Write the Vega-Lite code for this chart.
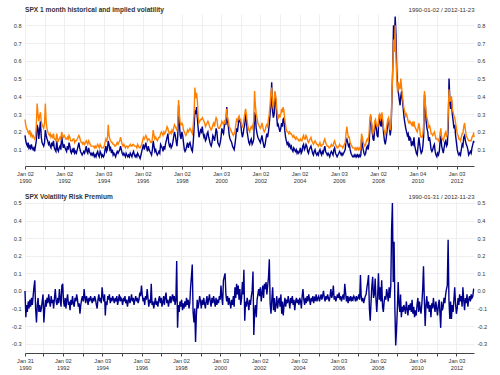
{
"$schema": "https://vega.github.io/schema/vega-lite/v6.json",
"padding": {"left": 11, "right": 4, "top": 6, "bottom": 2},
"config": {
  "font": "Liberation Sans",
  "view": {"stroke": null},
  "locale": {"number": {"decimal": ".", "thousands": ",", "grouping": [3], "currency": ["$", ""], "minus": "-"}},
  "axis": {"labelFont": "Liberation Sans", "labelFontSize": 5.6, "labelColor": "#333333", "domainColor": "#444444", "tickColor": "#444444", "gridColor": "#ebebeb", "gridWidth": 0.8, "titleFont": "Liberation Sans", "titleFontSize": 6, "titleFontWeight": "normal", "titleColor": "#333333"},
  "title": {"anchor": "start", "fontSize": 6.6, "fontWeight": "bold", "color": "#333333", "font": "Liberation Sans", "offset": -8, "frame": "group"},
  "concat": {"spacing": 9}
},
"datasets": {
"vol": [
{"d":"1990-01-02","h":0.18,"i":0.27},{"d":"1990-01-16","h":0.15,"i":0.24},{"d":"1990-02-01","h":0.13,"i":0.22},{"d":"1990-02-16","h":0.12,"i":0.21},{"d":"1990-03-01","h":0.14,"i":0.20},{"d":"1990-03-16","h":0.11,"i":0.19},{"d":"1990-04-01","h":0.12,"i":0.21},{"d":"1990-04-16","h":0.10,"i":0.18},{"d":"1990-05-01","h":0.13,"i":0.19},{"d":"1990-05-16","h":0.11,"i":0.17},{"d":"1990-06-01","h":0.10,"i":0.18},{"d":"1990-06-16","h":0.11,"i":0.17},{"d":"1990-07-01","h":0.09,"i":0.16},{"d":"1990-07-16","h":0.12,"i":0.17},{"d":"1990-08-01","h":0.15,"i":0.24},{"d":"1990-08-16","h":0.24,"i":0.36},{"d":"1990-09-01","h":0.22,"i":0.30},{"d":"1990-09-16","h":0.16,"i":0.26},{"d":"1990-10-01","h":0.21,"i":0.29},{"d":"1990-10-16","h":0.26,"i":0.31},{"d":"1990-11-01","h":0.17,"i":0.26},{"d":"1990-11-16","h":0.14,"i":0.24},{"d":"1990-12-01","h":0.13,"i":0.23},{"d":"1990-12-16","h":0.12,"i":0.22},
{"d":"1991-01-01","h":0.14,"i":0.25},{"d":"1991-01-16","h":0.21,"i":0.36},{"d":"1991-02-01","h":0.18,"i":0.25},{"d":"1991-02-16","h":0.16,"i":0.22},{"d":"1991-03-01","h":0.15,"i":0.20},{"d":"1991-03-16","h":0.13,"i":0.19},{"d":"1991-04-01","h":0.14,"i":0.18},{"d":"1991-04-16","h":0.12,"i":0.19},{"d":"1991-05-01","h":0.11,"i":0.17},{"d":"1991-05-16","h":0.14,"i":0.18},{"d":"1991-06-01","h":0.12,"i":0.17},{"d":"1991-06-16","h":0.15,"i":0.19},{"d":"1991-07-01","h":0.11,"i":0.16},{"d":"1991-07-16","h":0.10,"i":0.16},{"d":"1991-08-01","h":0.09,"i":0.15},{"d":"1991-08-16","h":0.15,"i":0.19},{"d":"1991-09-01","h":0.10,"i":0.16},{"d":"1991-09-16","h":0.09,"i":0.15},{"d":"1991-10-01","h":0.11,"i":0.16},{"d":"1991-10-16","h":0.12,"i":0.17},{"d":"1991-11-01","h":0.10,"i":0.16},{"d":"1991-11-16","h":0.18,"i":0.20},{"d":"1991-12-01","h":0.14,"i":0.18},{"d":"1991-12-16","h":0.11,"i":0.17},
{"d":"1992-01-01","h":0.13,"i":0.18},{"d":"1992-01-16","h":0.11,"i":0.17},{"d":"1992-02-01","h":0.10,"i":0.16},{"d":"1992-02-16","h":0.09,"i":0.16},{"d":"1992-03-01","h":0.12,"i":0.17},{"d":"1992-03-16","h":0.10,"i":0.16},{"d":"1992-04-01","h":0.14,"i":0.18},{"d":"1992-04-16","h":0.12,"i":0.17},{"d":"1992-05-01","h":0.09,"i":0.15},{"d":"1992-05-16","h":0.08,"i":0.15},{"d":"1992-06-01","h":0.10,"i":0.15},{"d":"1992-06-16","h":0.09,"i":0.16},{"d":"1992-07-01","h":0.11,"i":0.16},{"d":"1992-07-16","h":0.08,"i":0.14},{"d":"1992-08-01","h":0.09,"i":0.15},{"d":"1992-08-16","h":0.08,"i":0.15},{"d":"1992-09-01","h":0.10,"i":0.16},{"d":"1992-09-16","h":0.12,"i":0.17},{"d":"1992-10-01","h":0.14,"i":0.18},{"d":"1992-10-16","h":0.11,"i":0.17},{"d":"1992-11-01","h":0.09,"i":0.15},{"d":"1992-11-16","h":0.08,"i":0.14},{"d":"1992-12-01","h":0.07,"i":0.14},{"d":"1992-12-16","h":0.08,"i":0.13},
{"d":"1993-01-01","h":0.09,"i":0.14},{"d":"1993-01-16","h":0.08,"i":0.13},{"d":"1993-02-01","h":0.10,"i":0.14},{"d":"1993-02-16","h":0.12,"i":0.15},{"d":"1993-03-01","h":0.09,"i":0.14},{"d":"1993-03-16","h":0.08,"i":0.13},{"d":"1993-04-01","h":0.11,"i":0.15},{"d":"1993-04-16","h":0.09,"i":0.14},{"d":"1993-05-01","h":0.08,"i":0.13},{"d":"1993-05-16","h":0.07,"i":0.12},{"d":"1993-06-01","h":0.08,"i":0.12},{"d":"1993-06-16","h":0.07,"i":0.12},{"d":"1993-07-01","h":0.08,"i":0.12},{"d":"1993-07-16","h":0.06,"i":0.11},{"d":"1993-08-01","h":0.07,"i":0.12},{"d":"1993-08-16","h":0.06,"i":0.11},{"d":"1993-09-01","h":0.08,"i":0.12},{"d":"1993-09-16","h":0.09,"i":0.13},{"d":"1993-10-01","h":0.07,"i":0.12},{"d":"1993-10-16","h":0.06,"i":0.11},{"d":"1993-11-01","h":0.09,"i":0.13},{"d":"1993-11-16","h":0.08,"i":0.12},{"d":"1993-12-01","h":0.06,"i":0.11},{"d":"1993-12-16","h":0.07,"i":0.11},
{"d":"1994-01-01","h":0.06,"i":0.11},{"d":"1994-01-16","h":0.07,"i":0.12},{"d":"1994-02-01","h":0.10,"i":0.14},{"d":"1994-02-16","h":0.12,"i":0.16},{"d":"1994-03-01","h":0.09,"i":0.15},{"d":"1994-03-16","h":0.10,"i":0.16},{"d":"1994-04-01","h":0.15,"i":0.24},{"d":"1994-04-16","h":0.13,"i":0.18},{"d":"1994-05-01","h":0.10,"i":0.16},{"d":"1994-05-16","h":0.11,"i":0.15},{"d":"1994-06-01","h":0.08,"i":0.14},{"d":"1994-06-16","h":0.10,"i":0.14},{"d":"1994-07-01","h":0.07,"i":0.13},{"d":"1994-07-16","h":0.08,"i":0.13},{"d":"1994-08-01","h":0.07,"i":0.12},{"d":"1994-08-16","h":0.06,"i":0.12},{"d":"1994-09-01","h":0.08,"i":0.13},{"d":"1994-09-16","h":0.09,"i":0.14},{"d":"1994-10-01","h":0.08,"i":0.13},{"d":"1994-10-16","h":0.09,"i":0.14},{"d":"1994-11-01","h":0.10,"i":0.15},{"d":"1994-11-16","h":0.12,"i":0.17},{"d":"1994-12-01","h":0.10,"i":0.15},{"d":"1994-12-16","h":0.08,"i":0.13},
{"d":"1995-01-01","h":0.07,"i":0.12},{"d":"1995-01-16","h":0.08,"i":0.13},{"d":"1995-02-01","h":0.07,"i":0.12},{"d":"1995-02-16","h":0.06,"i":0.11},{"d":"1995-03-01","h":0.08,"i":0.12},{"d":"1995-03-16","h":0.07,"i":0.12},{"d":"1995-04-01","h":0.06,"i":0.11},{"d":"1995-04-16","h":0.07,"i":0.12},{"d":"1995-05-01","h":0.06,"i":0.12},{"d":"1995-05-16","h":0.08,"i":0.13},{"d":"1995-06-01","h":0.07,"i":0.12},{"d":"1995-06-16","h":0.06,"i":0.12},{"d":"1995-07-01","h":0.08,"i":0.13},{"d":"1995-07-16","h":0.09,"i":0.13},{"d":"1995-08-01","h":0.07,"i":0.12},{"d":"1995-08-16","h":0.06,"i":0.12},{"d":"1995-09-01","h":0.07,"i":0.12},{"d":"1995-09-16","h":0.06,"i":0.11},{"d":"1995-10-01","h":0.08,"i":0.13},{"d":"1995-10-16","h":0.07,"i":0.12},{"d":"1995-11-01","h":0.06,"i":0.11},{"d":"1995-11-16","h":0.05,"i":0.11},{"d":"1995-12-01","h":0.07,"i":0.12},{"d":"1995-12-16","h":0.09,"i":0.13},
{"d":"1996-01-01","h":0.11,"i":0.15},{"d":"1996-01-16","h":0.13,"i":0.17},{"d":"1996-02-01","h":0.10,"i":0.16},{"d":"1996-02-16","h":0.12,"i":0.17},{"d":"1996-03-01","h":0.14,"i":0.18},{"d":"1996-03-16","h":0.11,"i":0.17},{"d":"1996-04-01","h":0.09,"i":0.15},{"d":"1996-04-16","h":0.12,"i":0.16},{"d":"1996-05-01","h":0.10,"i":0.16},{"d":"1996-05-16","h":0.09,"i":0.15},{"d":"1996-06-01","h":0.08,"i":0.14},{"d":"1996-06-16","h":0.07,"i":0.14},{"d":"1996-07-01","h":0.10,"i":0.16},{"d":"1996-07-16","h":0.15,"i":0.21},{"d":"1996-08-01","h":0.12,"i":0.18},{"d":"1996-08-16","h":0.09,"i":0.16},{"d":"1996-09-01","h":0.10,"i":0.17},{"d":"1996-09-16","h":0.08,"i":0.16},{"d":"1996-10-01","h":0.07,"i":0.15},{"d":"1996-10-16","h":0.08,"i":0.16},{"d":"1996-11-01","h":0.09,"i":0.17},{"d":"1996-11-16","h":0.08,"i":0.17},{"d":"1996-12-01","h":0.13,"i":0.19},{"d":"1996-12-16","h":0.12,"i":0.20},
{"d":"1997-01-01","h":0.11,"i":0.19},{"d":"1997-01-16","h":0.09,"i":0.18},{"d":"1997-02-01","h":0.12,"i":0.20},{"d":"1997-02-16","h":0.10,"i":0.19},{"d":"1997-03-01","h":0.13,"i":0.20},{"d":"1997-03-16","h":0.15,"i":0.21},{"d":"1997-04-01","h":0.17,"i":0.23},{"d":"1997-04-16","h":0.19,"i":0.22},{"d":"1997-05-01","h":0.14,"i":0.20},{"d":"1997-05-16","h":0.12,"i":0.19},{"d":"1997-06-01","h":0.13,"i":0.20},{"d":"1997-06-16","h":0.11,"i":0.19},{"d":"1997-07-01","h":0.12,"i":0.21},{"d":"1997-07-16","h":0.14,"i":0.20},{"d":"1997-08-01","h":0.17,"i":0.22},{"d":"1997-08-16","h":0.20,"i":0.24},{"d":"1997-09-01","h":0.18,"i":0.23},{"d":"1997-09-16","h":0.15,"i":0.22},{"d":"1997-10-01","h":0.12,"i":0.21},{"d":"1997-10-16","h":0.17,"i":0.24},{"d":"1997-11-01","h":0.35,"i":0.38},{"d":"1997-11-16","h":0.25,"i":0.30},{"d":"1997-12-01","h":0.18,"i":0.25},{"d":"1997-12-16","h":0.16,"i":0.24},
{"d":"1998-01-01","h":0.20,"i":0.25},{"d":"1998-01-16","h":0.18,"i":0.24},{"d":"1998-02-01","h":0.14,"i":0.21},{"d":"1998-02-16","h":0.10,"i":0.20},{"d":"1998-03-01","h":0.09,"i":0.19},{"d":"1998-03-16","h":0.10,"i":0.18},{"d":"1998-04-01","h":0.12,"i":0.19},{"d":"1998-04-16","h":0.14,"i":0.21},{"d":"1998-05-01","h":0.11,"i":0.20},{"d":"1998-05-16","h":0.13,"i":0.21},{"d":"1998-06-01","h":0.14,"i":0.22},{"d":"1998-06-16","h":0.12,"i":0.21},{"d":"1998-07-01","h":0.10,"i":0.20},{"d":"1998-07-16","h":0.09,"i":0.19},{"d":"1998-08-01","h":0.14,"i":0.24},{"d":"1998-08-16","h":0.22,"i":0.30},{"d":"1998-09-01","h":0.32,"i":0.45},{"d":"1998-09-16","h":0.30,"i":0.39},{"d":"1998-10-01","h":0.34,"i":0.42},{"d":"1998-10-16","h":0.28,"i":0.38},{"d":"1998-11-01","h":0.22,"i":0.28},{"d":"1998-11-16","h":0.17,"i":0.25},{"d":"1998-12-01","h":0.19,"i":0.26},{"d":"1998-12-16","h":0.21,"i":0.27},
{"d":"1999-01-01","h":0.20,"i":0.27},{"d":"1999-01-16","h":0.23,"i":0.28},{"d":"1999-02-01","h":0.19,"i":0.27},{"d":"1999-02-16","h":0.17,"i":0.26},{"d":"1999-03-01","h":0.18,"i":0.25},{"d":"1999-03-16","h":0.15,"i":0.23},{"d":"1999-04-01","h":0.16,"i":0.24},{"d":"1999-04-16","h":0.19,"i":0.25},{"d":"1999-05-01","h":0.20,"i":0.26},{"d":"1999-05-16","h":0.17,"i":0.25},{"d":"1999-06-01","h":0.15,"i":0.23},{"d":"1999-06-16","h":0.13,"i":0.22},{"d":"1999-07-01","h":0.12,"i":0.21},{"d":"1999-07-16","h":0.14,"i":0.22},{"d":"1999-08-01","h":0.18,"i":0.24},{"d":"1999-08-16","h":0.17,"i":0.25},{"d":"1999-09-01","h":0.15,"i":0.23},{"d":"1999-09-16","h":0.18,"i":0.26},{"d":"1999-10-01","h":0.22,"i":0.28},{"d":"1999-10-16","h":0.20,"i":0.27},{"d":"1999-11-01","h":0.14,"i":0.23},{"d":"1999-11-16","h":0.13,"i":0.22},{"d":"1999-12-01","h":0.12,"i":0.22},{"d":"1999-12-16","h":0.14,"i":0.23},
{"d":"2000-01-01","h":0.17,"i":0.24},{"d":"2000-01-16","h":0.22,"i":0.26},{"d":"2000-02-01","h":0.20,"i":0.25},{"d":"2000-02-16","h":0.19,"i":0.24},{"d":"2000-03-01","h":0.23,"i":0.26},{"d":"2000-03-16","h":0.25,"i":0.25},{"d":"2000-04-01","h":0.24,"i":0.28},{"d":"2000-04-16","h":0.34,"i":0.33},{"d":"2000-05-01","h":0.26,"i":0.28},{"d":"2000-05-16","h":0.23,"i":0.26},{"d":"2000-06-01","h":0.18,"i":0.23},{"d":"2000-06-16","h":0.16,"i":0.22},{"d":"2000-07-01","h":0.15,"i":0.21},{"d":"2000-07-16","h":0.14,"i":0.20},{"d":"2000-08-01","h":0.12,"i":0.19},{"d":"2000-08-16","h":0.11,"i":0.18},{"d":"2000-09-01","h":0.10,"i":0.19},{"d":"2000-09-16","h":0.13,"i":0.20},{"d":"2000-10-01","h":0.17,"i":0.24},{"d":"2000-10-16","h":0.22,"i":0.27},{"d":"2000-11-01","h":0.20,"i":0.26},{"d":"2000-11-16","h":0.24,"i":0.28},{"d":"2000-12-01","h":0.27,"i":0.29},{"d":"2000-12-16","h":0.26,"i":0.27},
{"d":"2001-01-01","h":0.25,"i":0.27},{"d":"2001-01-16","h":0.20,"i":0.24},{"d":"2001-02-01","h":0.17,"i":0.23},{"d":"2001-02-16","h":0.19,"i":0.24},{"d":"2001-03-01","h":0.22,"i":0.27},{"d":"2001-03-16","h":0.24,"i":0.30},{"d":"2001-04-01","h":0.30,"i":0.33},{"d":"2001-04-16","h":0.27,"i":0.30},{"d":"2001-05-01","h":0.20,"i":0.26},{"d":"2001-05-16","h":0.17,"i":0.23},{"d":"2001-06-01","h":0.14,"i":0.21},{"d":"2001-06-16","h":0.13,"i":0.20},{"d":"2001-07-01","h":0.15,"i":0.22},{"d":"2001-07-16","h":0.16,"i":0.23},{"d":"2001-08-01","h":0.13,"i":0.22},{"d":"2001-08-16","h":0.14,"i":0.24},{"d":"2001-09-01","h":0.16,"i":0.26},{"d":"2001-09-16","h":0.31,"i":0.43},{"d":"2001-10-01","h":0.29,"i":0.35},{"d":"2001-10-16","h":0.22,"i":0.30},{"d":"2001-11-01","h":0.19,"i":0.28},{"d":"2001-11-16","h":0.17,"i":0.25},{"d":"2001-12-01","h":0.16,"i":0.24},{"d":"2001-12-16","h":0.15,"i":0.23},
{"d":"2002-01-01","h":0.14,"i":0.22},{"d":"2002-01-16","h":0.16,"i":0.23},{"d":"2002-02-01","h":0.18,"i":0.25},{"d":"2002-02-16","h":0.15,"i":0.23},{"d":"2002-03-01","h":0.13,"i":0.21},{"d":"2002-03-16","h":0.11,"i":0.20},{"d":"2002-04-01","h":0.13,"i":0.21},{"d":"2002-04-16","h":0.16,"i":0.23},{"d":"2002-05-01","h":0.19,"i":0.24},{"d":"2002-05-16","h":0.17,"i":0.23},{"d":"2002-06-01","h":0.20,"i":0.27},{"d":"2002-06-16","h":0.24,"i":0.30},{"d":"2002-07-01","h":0.30,"i":0.35},{"d":"2002-07-16","h":0.35,"i":0.42},{"d":"2002-08-01","h":0.48,"i":0.45},{"d":"2002-08-16","h":0.32,"i":0.36},{"d":"2002-09-01","h":0.28,"i":0.33},{"d":"2002-09-16","h":0.30,"i":0.38},{"d":"2002-10-01","h":0.42,"i":0.43},{"d":"2002-10-16","h":0.38,"i":0.40},{"d":"2002-11-01","h":0.30,"i":0.34},{"d":"2002-11-16","h":0.23,"i":0.29},{"d":"2002-12-01","h":0.24,"i":0.28},{"d":"2002-12-16","h":0.22,"i":0.30},
{"d":"2003-01-01","h":0.20,"i":0.28},{"d":"2003-01-16","h":0.22,"i":0.30},{"d":"2003-02-01","h":0.25,"i":0.33},{"d":"2003-02-16","h":0.23,"i":0.31},{"d":"2003-03-01","h":0.27,"i":0.34},{"d":"2003-03-16","h":0.28,"i":0.32},{"d":"2003-04-01","h":0.21,"i":0.27},{"d":"2003-04-16","h":0.17,"i":0.24},{"d":"2003-05-01","h":0.15,"i":0.21},{"d":"2003-05-16","h":0.13,"i":0.20},{"d":"2003-06-01","h":0.14,"i":0.20},{"d":"2003-06-16","h":0.12,"i":0.19},{"d":"2003-07-01","h":0.13,"i":0.20},{"d":"2003-07-16","h":0.11,"i":0.19},{"d":"2003-08-01","h":0.12,"i":0.19},{"d":"2003-08-16","h":0.10,"i":0.18},{"d":"2003-09-01","h":0.09,"i":0.17},{"d":"2003-09-16","h":0.11,"i":0.18},{"d":"2003-10-01","h":0.10,"i":0.17},{"d":"2003-10-16","h":0.09,"i":0.16},{"d":"2003-11-01","h":0.10,"i":0.17},{"d":"2003-11-16","h":0.08,"i":0.16},{"d":"2003-12-01","h":0.09,"i":0.16},{"d":"2003-12-16","h":0.08,"i":0.15},
{"d":"2004-01-01","h":0.09,"i":0.15},{"d":"2004-01-16","h":0.11,"i":0.16},{"d":"2004-02-01","h":0.08,"i":0.15},{"d":"2004-02-16","h":0.09,"i":0.15},{"d":"2004-03-01","h":0.12,"i":0.17},{"d":"2004-03-16","h":0.13,"i":0.18},{"d":"2004-04-01","h":0.10,"i":0.16},{"d":"2004-04-16","h":0.11,"i":0.16},{"d":"2004-05-01","h":0.13,"i":0.18},{"d":"2004-05-16","h":0.12,"i":0.17},{"d":"2004-06-01","h":0.09,"i":0.15},{"d":"2004-06-16","h":0.08,"i":0.14},{"d":"2004-07-01","h":0.10,"i":0.15},{"d":"2004-07-16","h":0.11,"i":0.16},{"d":"2004-08-01","h":0.12,"i":0.17},{"d":"2004-08-16","h":0.10,"i":0.15},{"d":"2004-09-01","h":0.08,"i":0.14},{"d":"2004-09-16","h":0.07,"i":0.13},{"d":"2004-10-01","h":0.09,"i":0.14},{"d":"2004-10-16","h":0.10,"i":0.15},{"d":"2004-11-01","h":0.08,"i":0.14},{"d":"2004-11-16","h":0.07,"i":0.13},{"d":"2004-12-01","h":0.08,"i":0.13},{"d":"2004-12-16","h":0.07,"i":0.12},
{"d":"2005-01-01","h":0.09,"i":0.13},{"d":"2005-01-16","h":0.10,"i":0.14},{"d":"2005-02-01","h":0.08,"i":0.12},{"d":"2005-02-16","h":0.07,"i":0.12},{"d":"2005-03-01","h":0.09,"i":0.13},{"d":"2005-03-16","h":0.08,"i":0.13},{"d":"2005-04-01","h":0.10,"i":0.15},{"d":"2005-04-16","h":0.12,"i":0.16},{"d":"2005-05-01","h":0.09,"i":0.14},{"d":"2005-05-16","h":0.08,"i":0.13},{"d":"2005-06-01","h":0.07,"i":0.12},{"d":"2005-06-16","h":0.08,"i":0.12},{"d":"2005-07-01","h":0.07,"i":0.11},{"d":"2005-07-16","h":0.06,"i":0.11},{"d":"2005-08-01","h":0.08,"i":0.12},{"d":"2005-08-16","h":0.09,"i":0.13},{"d":"2005-09-01","h":0.08,"i":0.12},{"d":"2005-09-16","h":0.07,"i":0.12},{"d":"2005-10-01","h":0.10,"i":0.14},{"d":"2005-10-16","h":0.11,"i":0.15},{"d":"2005-11-01","h":0.08,"i":0.13},{"d":"2005-11-16","h":0.07,"i":0.12},{"d":"2005-12-01","h":0.06,"i":0.11},{"d":"2005-12-16","h":0.07,"i":0.11},
{"d":"2006-01-01","h":0.08,"i":0.12},{"d":"2006-01-16","h":0.09,"i":0.13},{"d":"2006-02-01","h":0.08,"i":0.12},{"d":"2006-02-16","h":0.07,"i":0.12},{"d":"2006-03-01","h":0.08,"i":0.12},{"d":"2006-03-16","h":0.07,"i":0.11},{"d":"2006-04-01","h":0.08,"i":0.12},{"d":"2006-04-16","h":0.09,"i":0.13},{"d":"2006-05-01","h":0.10,"i":0.14},{"d":"2006-05-16","h":0.15,"i":0.19},{"d":"2006-06-01","h":0.16,"i":0.23},{"d":"2006-06-16","h":0.14,"i":0.19},{"d":"2006-07-01","h":0.12,"i":0.17},{"d":"2006-07-16","h":0.13,"i":0.17},{"d":"2006-08-01","h":0.10,"i":0.14},{"d":"2006-08-16","h":0.08,"i":0.13},{"d":"2006-09-01","h":0.07,"i":0.12},{"d":"2006-09-16","h":0.06,"i":0.11},{"d":"2006-10-01","h":0.06,"i":0.11},{"d":"2006-10-16","h":0.07,"i":0.11},{"d":"2006-11-01","h":0.06,"i":0.10},{"d":"2006-11-16","h":0.07,"i":0.11},{"d":"2006-12-01","h":0.06,"i":0.10},{"d":"2006-12-16","h":0.07,"i":0.11},
{"d":"2007-01-01","h":0.06,"i":0.10},{"d":"2007-01-16","h":0.07,"i":0.11},{"d":"2007-02-01","h":0.06,"i":0.10},{"d":"2007-02-16","h":0.07,"i":0.11},{"d":"2007-03-01","h":0.16,"i":0.19},{"d":"2007-03-16","h":0.13,"i":0.17},{"d":"2007-04-01","h":0.10,"i":0.14},{"d":"2007-04-16","h":0.08,"i":0.13},{"d":"2007-05-01","h":0.07,"i":0.12},{"d":"2007-05-16","h":0.08,"i":0.13},{"d":"2007-06-01","h":0.11,"i":0.15},{"d":"2007-06-16","h":0.12,"i":0.16},{"d":"2007-07-01","h":0.10,"i":0.15},{"d":"2007-07-16","h":0.13,"i":0.18},{"d":"2007-08-01","h":0.20,"i":0.26},{"d":"2007-08-16","h":0.29,"i":0.30},{"d":"2007-09-01","h":0.25,"i":0.26},{"d":"2007-09-16","h":0.20,"i":0.22},{"d":"2007-10-01","h":0.16,"i":0.19},{"d":"2007-10-16","h":0.15,"i":0.20},{"d":"2007-11-01","h":0.22,"i":0.26},{"d":"2007-11-16","h":0.25,"i":0.27},{"d":"2007-12-01","h":0.22,"i":0.24},{"d":"2007-12-16","h":0.18,"i":0.23},
{"d":"2008-01-01","h":0.17,"i":0.23},{"d":"2008-01-16","h":0.26,"i":0.29},{"d":"2008-02-01","h":0.30,"i":0.30},{"d":"2008-02-16","h":0.24,"i":0.27},{"d":"2008-03-01","h":0.23,"i":0.28},{"d":"2008-03-16","h":0.29,"i":0.31},{"d":"2008-04-01","h":0.24,"i":0.26},{"d":"2008-04-16","h":0.19,"i":0.22},{"d":"2008-05-01","h":0.15,"i":0.20},{"d":"2008-05-16","h":0.13,"i":0.18},{"d":"2008-06-01","h":0.16,"i":0.21},{"d":"2008-06-16","h":0.20,"i":0.24},{"d":"2008-07-01","h":0.25,"i":0.27},{"d":"2008-07-16","h":0.27,"i":0.28},{"d":"2008-08-01","h":0.22,"i":0.23},{"d":"2008-08-16","h":0.18,"i":0.21},{"d":"2008-09-01","h":0.22,"i":0.25},{"d":"2008-09-16","h":0.38,"i":0.40},{"d":"2008-10-01","h":0.55,"i":0.55},{"d":"2008-10-16","h":0.80,"i":0.72},{"d":"2008-11-01","h":0.70,"i":0.65},{"d":"2008-11-16","h":0.85,"i":0.80},{"d":"2008-12-01","h":0.75,"i":0.62},{"d":"2008-12-16","h":0.55,"i":0.50},
{"d":"2009-01-01","h":0.45,"i":0.42},{"d":"2009-01-16","h":0.42,"i":0.48},{"d":"2009-02-01","h":0.38,"i":0.45},{"d":"2009-02-16","h":0.35,"i":0.44},{"d":"2009-03-01","h":0.40,"i":0.50},{"d":"2009-03-16","h":0.43,"i":0.45},{"d":"2009-04-01","h":0.38,"i":0.40},{"d":"2009-04-16","h":0.33,"i":0.36},{"d":"2009-05-01","h":0.28,"i":0.33},{"d":"2009-05-16","h":0.25,"i":0.31},{"d":"2009-06-01","h":0.22,"i":0.29},{"d":"2009-06-16","h":0.20,"i":0.30},{"d":"2009-07-01","h":0.18,"i":0.28},{"d":"2009-07-16","h":0.19,"i":0.26},{"d":"2009-08-01","h":0.15,"i":0.25},{"d":"2009-08-16","h":0.17,"i":0.26},{"d":"2009-09-01","h":0.16,"i":0.25},{"d":"2009-09-16","h":0.12,"i":0.24},{"d":"2009-10-01","h":0.14,"i":0.25},{"d":"2009-10-16","h":0.13,"i":0.23},{"d":"2009-11-01","h":0.17,"i":0.26},{"d":"2009-11-16","h":0.12,"i":0.23},{"d":"2009-12-01","h":0.10,"i":0.22},{"d":"2009-12-16","h":0.08,"i":0.21},
{"d":"2010-01-01","h":0.07,"i":0.20},{"d":"2010-01-16","h":0.12,"i":0.22},{"d":"2010-02-01","h":0.17,"i":0.25},{"d":"2010-02-16","h":0.13,"i":0.22},{"d":"2010-03-01","h":0.10,"i":0.18},{"d":"2010-03-16","h":0.08,"i":0.17},{"d":"2010-04-01","h":0.09,"i":0.17},{"d":"2010-04-16","h":0.12,"i":0.19},{"d":"2010-05-01","h":0.18,"i":0.25},{"d":"2010-05-16","h":0.41,"i":0.43},{"d":"2010-06-01","h":0.35,"i":0.36},{"d":"2010-06-16","h":0.26,"i":0.30},{"d":"2010-07-01","h":0.22,"i":0.28},{"d":"2010-07-16","h":0.20,"i":0.26},{"d":"2010-08-01","h":0.15,"i":0.22},{"d":"2010-08-16","h":0.17,"i":0.24},{"d":"2010-09-01","h":0.14,"i":0.22},{"d":"2010-09-16","h":0.10,"i":0.19},{"d":"2010-10-01","h":0.09,"i":0.19},{"d":"2010-10-16","h":0.10,"i":0.18},{"d":"2010-11-01","h":0.12,"i":0.19},{"d":"2010-11-16","h":0.13,"i":0.20},{"d":"2010-12-01","h":0.09,"i":0.18},{"d":"2010-12-16","h":0.07,"i":0.16},
{"d":"2011-01-01","h":0.06,"i":0.16},{"d":"2011-01-16","h":0.08,"i":0.16},{"d":"2011-02-01","h":0.07,"i":0.15},{"d":"2011-02-16","h":0.09,"i":0.16},{"d":"2011-03-01","h":0.14,"i":0.19},{"d":"2011-03-16","h":0.18,"i":0.22},{"d":"2011-04-01","h":0.12,"i":0.17},{"d":"2011-04-16","h":0.10,"i":0.16},{"d":"2011-05-01","h":0.08,"i":0.15},{"d":"2011-05-16","h":0.11,"i":0.17},{"d":"2011-06-01","h":0.14,"i":0.19},{"d":"2011-06-16","h":0.15,"i":0.20},{"d":"2011-07-01","h":0.12,"i":0.17},{"d":"2011-07-16","h":0.13,"i":0.19},{"d":"2011-08-01","h":0.23,"i":0.30},{"d":"2011-08-16","h":0.50,"i":0.44},{"d":"2011-09-01","h":0.38,"i":0.37},{"d":"2011-09-16","h":0.33,"i":0.38},{"d":"2011-10-01","h":0.38,"i":0.40},{"d":"2011-10-16","h":0.30,"i":0.33},{"d":"2011-11-01","h":0.26,"i":0.31},{"d":"2011-11-16","h":0.22,"i":0.29},{"d":"2011-12-01","h":0.24,"i":0.28},{"d":"2011-12-16","h":0.18,"i":0.25},
{"d":"2012-01-01","h":0.14,"i":0.22},{"d":"2012-01-16","h":0.10,"i":0.19},{"d":"2012-02-01","h":0.08,"i":0.18},{"d":"2012-02-16","h":0.07,"i":0.16},{"d":"2012-03-01","h":0.08,"i":0.16},{"d":"2012-03-16","h":0.07,"i":0.15},{"d":"2012-04-01","h":0.10,"i":0.17},{"d":"2012-04-16","h":0.13,"i":0.19},{"d":"2012-05-01","h":0.12,"i":0.19},{"d":"2012-05-16","h":0.17,"i":0.23},{"d":"2012-06-01","h":0.18,"i":0.25},{"d":"2012-06-16","h":0.15,"i":0.21},{"d":"2012-07-01","h":0.13,"i":0.18},{"d":"2012-07-16","h":0.12,"i":0.17},{"d":"2012-08-01","h":0.10,"i":0.16},{"d":"2012-08-16","h":0.07,"i":0.15},{"d":"2012-09-01","h":0.08,"i":0.15},{"d":"2012-09-16","h":0.09,"i":0.15},{"d":"2012-10-01","h":0.08,"i":0.15},{"d":"2012-10-16","h":0.11,"i":0.17},{"d":"2012-11-01","h":0.13,"i":0.18},{"d":"2012-11-16","h":0.15,"i":0.19},{"d":"2012-11-23","h":0.14,"i":0.17}
],
"vrp": [
{"d":"1990-01-31","v":0.0},{"d":"1990-02-16","v":-0.15},{"d":"1990-03-01","v":-0.08},{"d":"1990-03-16","v":-0.12},{"d":"1990-04-01","v":-0.06},{"d":"1990-04-16","v":-0.10},{"d":"1990-05-01","v":-0.05},{"d":"1990-05-16","v":-0.09},{"d":"1990-06-01","v":-0.04},{"d":"1990-06-16","v":-0.08},{"d":"1990-07-01","v":-0.03},{"d":"1990-07-16","v":0.02},{"d":"1990-08-01","v":0.06},{"d":"1990-08-16","v":-0.10},{"d":"1990-09-01","v":-0.18},{"d":"1990-09-16","v":-0.08},{"d":"1990-10-01","v":-0.04},{"d":"1990-10-16","v":-0.12},{"d":"1990-11-01","v":-0.08},{"d":"1990-11-16","v":-0.12},{"d":"1990-12-01","v":-0.10},{"d":"1990-12-16","v":-0.06},
{"d":"1991-01-01","v":-0.02},{"d":"1991-01-16","v":-0.18},{"d":"1991-02-01","v":-0.10},{"d":"1991-02-16","v":-0.05},{"d":"1991-03-01","v":-0.09},{"d":"1991-03-16","v":-0.04},{"d":"1991-04-01","v":-0.07},{"d":"1991-04-16","v":-0.02},{"d":"1991-05-01","v":-0.06},{"d":"1991-05-16","v":-0.09},{"d":"1991-06-01","v":-0.03},{"d":"1991-06-16","v":-0.07},{"d":"1991-07-01","v":-0.05},{"d":"1991-07-16","v":-0.10},{"d":"1991-08-01","v":-0.04},{"d":"1991-08-16","v":0.01},{"d":"1991-09-01","v":-0.06},{"d":"1991-09-16","v":-0.08},{"d":"1991-10-01","v":-0.04},{"d":"1991-10-16","v":-0.07},{"d":"1991-11-01","v":0.01},{"d":"1991-11-16","v":-0.05},{"d":"1991-12-01","v":-0.09},{"d":"1991-12-16","v":0.03},
{"d":"1992-01-01","v":0.04},{"d":"1992-01-16","v":-0.06},{"d":"1992-02-01","v":-0.09},{"d":"1992-02-16","v":-0.04},{"d":"1992-03-01","v":-0.10},{"d":"1992-03-16","v":-0.05},{"d":"1992-04-01","v":-0.02},{"d":"1992-04-16","v":-0.08},{"d":"1992-05-01","v":-0.06},{"d":"1992-05-16","v":-0.11},{"d":"1992-06-01","v":-0.05},{"d":"1992-06-16","v":-0.08},{"d":"1992-07-01","v":-0.03},{"d":"1992-07-16","v":-0.07},{"d":"1992-08-01","v":-0.09},{"d":"1992-08-16","v":-0.04},{"d":"1992-09-01","v":-0.06},{"d":"1992-09-16","v":-0.02},{"d":"1992-10-01","v":-0.05},{"d":"1992-10-16","v":-0.09},{"d":"1992-11-01","v":-0.07},{"d":"1992-11-16","v":-0.13},{"d":"1992-12-01","v":-0.08},{"d":"1992-12-16","v":-0.05},
{"d":"1993-01-01","v":-0.03},{"d":"1993-01-16","v":-0.06},{"d":"1993-02-01","v":0.01},{"d":"1993-02-16","v":-0.04},{"d":"1993-03-01","v":-0.07},{"d":"1993-03-16","v":-0.03},{"d":"1993-04-01","v":-0.05},{"d":"1993-04-16","v":-0.08},{"d":"1993-05-01","v":-0.04},{"d":"1993-05-16","v":-0.06},{"d":"1993-06-01","v":-0.03},{"d":"1993-06-16","v":-0.05},{"d":"1993-07-01","v":-0.07},{"d":"1993-07-16","v":-0.04},{"d":"1993-08-01","v":-0.06},{"d":"1993-08-16","v":-0.03},{"d":"1993-09-01","v":-0.05},{"d":"1993-09-16","v":-0.08},{"d":"1993-10-01","v":-0.10},{"d":"1993-10-16","v":-0.05},{"d":"1993-11-01","v":-0.02},{"d":"1993-11-16","v":-0.06},{"d":"1993-12-01","v":-0.04},{"d":"1993-12-16","v":-0.07},
{"d":"1994-01-01","v":0.02},{"d":"1994-01-16","v":-0.03},{"d":"1994-02-01","v":-0.06},{"d":"1994-02-16","v":-0.02},{"d":"1994-03-01","v":-0.14},{"d":"1994-03-16","v":-0.06},{"d":"1994-04-01","v":-0.08},{"d":"1994-04-16","v":-0.03},{"d":"1994-05-01","v":-0.05},{"d":"1994-05-16","v":-0.02},{"d":"1994-06-01","v":-0.07},{"d":"1994-06-16","v":-0.04},{"d":"1994-07-01","v":-0.06},{"d":"1994-07-16","v":-0.03},{"d":"1994-08-01","v":-0.05},{"d":"1994-08-16","v":-0.07},{"d":"1994-09-01","v":-0.04},{"d":"1994-09-16","v":-0.06},{"d":"1994-10-01","v":-0.03},{"d":"1994-10-16","v":-0.08},{"d":"1994-11-01","v":-0.05},{"d":"1994-11-16","v":-0.02},{"d":"1994-12-01","v":-0.06},{"d":"1994-12-16","v":-0.04},
{"d":"1995-01-01","v":-0.05},{"d":"1995-01-16","v":-0.08},{"d":"1995-02-01","v":-0.04},{"d":"1995-02-16","v":-0.06},{"d":"1995-03-01","v":-0.03},{"d":"1995-03-16","v":-0.07},{"d":"1995-04-01","v":-0.05},{"d":"1995-04-16","v":-0.09},{"d":"1995-05-01","v":-0.06},{"d":"1995-05-16","v":-0.03},{"d":"1995-06-01","v":-0.07},{"d":"1995-06-16","v":-0.05},{"d":"1995-07-01","v":-0.02},{"d":"1995-07-16","v":-0.06},{"d":"1995-08-01","v":-0.04},{"d":"1995-08-16","v":-0.08},{"d":"1995-09-01","v":-0.05},{"d":"1995-09-16","v":-0.03},{"d":"1995-10-01","v":-0.06},{"d":"1995-10-16","v":-0.04},{"d":"1995-11-01","v":-0.07},{"d":"1995-11-16","v":-0.05},{"d":"1995-12-01","v":-0.01},{"d":"1995-12-16","v":-0.03},
{"d":"1996-01-01","v":0.03},{"d":"1996-01-16","v":-0.02},{"d":"1996-02-01","v":-0.06},{"d":"1996-02-16","v":-0.04},{"d":"1996-03-01","v":-0.08},{"d":"1996-03-16","v":-0.03},{"d":"1996-04-01","v":-0.05},{"d":"1996-04-16","v":0.01},{"d":"1996-05-01","v":-0.04},{"d":"1996-05-16","v":-0.09},{"d":"1996-06-01","v":-0.05},{"d":"1996-06-16","v":-0.07},{"d":"1996-07-01","v":0.04},{"d":"1996-07-16","v":-0.08},{"d":"1996-08-01","v":-0.06},{"d":"1996-08-16","v":-0.10},{"d":"1996-09-01","v":-0.07},{"d":"1996-09-16","v":-0.04},{"d":"1996-10-01","v":-0.08},{"d":"1996-10-16","v":-0.06},{"d":"1996-11-01","v":-0.09},{"d":"1996-11-16","v":-0.05},{"d":"1996-12-01","v":-0.03},{"d":"1996-12-16","v":-0.07},
{"d":"1997-01-01","v":-0.04},{"d":"1997-01-16","v":-0.09},{"d":"1997-02-01","v":-0.06},{"d":"1997-02-16","v":-0.03},{"d":"1997-03-01","v":-0.08},{"d":"1997-03-16","v":-0.04},{"d":"1997-04-01","v":-0.01},{"d":"1997-04-16","v":-0.07},{"d":"1997-05-01","v":-0.05},{"d":"1997-05-16","v":-0.09},{"d":"1997-06-01","v":-0.06},{"d":"1997-06-16","v":-0.03},{"d":"1997-07-01","v":-0.07},{"d":"1997-07-16","v":-0.04},{"d":"1997-08-01","v":-0.02},{"d":"1997-08-16","v":-0.06},{"d":"1997-09-01","v":-0.03},{"d":"1997-09-16","v":-0.08},{"d":"1997-10-01","v":-0.05},{"d":"1997-10-16","v":0.17},{"d":"1997-11-01","v":-0.21},{"d":"1997-11-16","v":-0.08},{"d":"1997-12-01","v":-0.12},{"d":"1997-12-16","v":-0.06},
{"d":"1998-01-01","v":-0.09},{"d":"1998-01-16","v":-0.05},{"d":"1998-02-01","v":-0.11},{"d":"1998-02-16","v":-0.07},{"d":"1998-03-01","v":-0.10},{"d":"1998-03-16","v":-0.06},{"d":"1998-04-01","v":-0.09},{"d":"1998-04-16","v":-0.04},{"d":"1998-05-01","v":-0.08},{"d":"1998-05-16","v":-0.05},{"d":"1998-06-01","v":-0.10},{"d":"1998-06-16","v":-0.07},{"d":"1998-07-01","v":0.02},{"d":"1998-07-16","v":0.08},{"d":"1998-08-01","v":0.15},{"d":"1998-08-16","v":-0.12},{"d":"1998-09-01","v":-0.18},{"d":"1998-09-16","v":-0.10},{"d":"1998-10-01","v":-0.29},{"d":"1998-10-16","v":-0.14},{"d":"1998-11-01","v":-0.05},{"d":"1998-11-16","v":-0.10},{"d":"1998-12-01","v":-0.07},{"d":"1998-12-16","v":-0.03},
{"d":"1999-01-01","v":-0.06},{"d":"1999-01-16","v":-0.10},{"d":"1999-02-01","v":-0.05},{"d":"1999-02-16","v":-0.08},{"d":"1999-03-01","v":-0.04},{"d":"1999-03-16","v":-0.07},{"d":"1999-04-01","v":-0.10},{"d":"1999-04-16","v":-0.06},{"d":"1999-05-01","v":-0.03},{"d":"1999-05-16","v":-0.08},{"d":"1999-06-01","v":-0.05},{"d":"1999-06-16","v":-0.02},{"d":"1999-07-01","v":-0.06},{"d":"1999-07-16","v":-0.09},{"d":"1999-08-01","v":-0.04},{"d":"1999-08-16","v":-0.07},{"d":"1999-09-01","v":-0.03},{"d":"1999-09-16","v":-0.06},{"d":"1999-10-01","v":-0.09},{"d":"1999-10-16","v":-0.04},{"d":"1999-11-01","v":-0.08},{"d":"1999-11-16","v":-0.05},{"d":"1999-12-01","v":-0.07},{"d":"1999-12-16","v":-0.03},
{"d":"2000-01-01","v":-0.05},{"d":"2000-01-16","v":0.03},{"d":"2000-02-01","v":-0.04},{"d":"2000-02-16","v":-0.08},{"d":"2000-03-01","v":0.06},{"d":"2000-03-16","v":0.08},{"d":"2000-04-01","v":0.10},{"d":"2000-04-16","v":-0.02},{"d":"2000-05-01","v":-0.06},{"d":"2000-05-16","v":-0.03},{"d":"2000-06-01","v":-0.08},{"d":"2000-06-16","v":-0.04},{"d":"2000-07-01","v":-0.07},{"d":"2000-07-16","v":-0.10},{"d":"2000-08-01","v":-0.05},{"d":"2000-08-16","v":-0.08},{"d":"2000-09-01","v":-0.03},{"d":"2000-09-16","v":-0.09},{"d":"2000-10-01","v":0.02},{"d":"2000-10-16","v":-0.04},{"d":"2000-11-01","v":0.04},{"d":"2000-11-16","v":-0.02},{"d":"2000-12-01","v":0.03},{"d":"2000-12-16","v":-0.05},
{"d":"2001-01-01","v":0.01},{"d":"2001-01-16","v":-0.08},{"d":"2001-02-01","v":-0.04},{"d":"2001-02-16","v":0.05},{"d":"2001-03-01","v":-0.02},{"d":"2001-03-16","v":0.12},{"d":"2001-04-01","v":-0.17},{"d":"2001-04-16","v":-0.06},{"d":"2001-05-01","v":-0.09},{"d":"2001-05-16","v":-0.04},{"d":"2001-06-01","v":-0.07},{"d":"2001-06-16","v":-0.11},{"d":"2001-07-01","v":-0.05},{"d":"2001-07-16","v":-0.08},{"d":"2001-08-01","v":-0.03},{"d":"2001-08-16","v":0.0},{"d":"2001-09-01","v":0.11},{"d":"2001-09-16","v":-0.25},{"d":"2001-10-01","v":-0.12},{"d":"2001-10-16","v":-0.08},{"d":"2001-11-01","v":-0.15},{"d":"2001-11-16","v":-0.05},{"d":"2001-12-01","v":-0.02},{"d":"2001-12-16","v":0.01},
{"d":"2002-01-01","v":-0.03},{"d":"2002-01-16","v":0.02},{"d":"2002-02-01","v":-0.06},{"d":"2002-02-16","v":-0.01},{"d":"2002-03-01","v":0.03},{"d":"2002-03-16","v":-0.04},{"d":"2002-04-01","v":0.04},{"d":"2002-04-16","v":0.01},{"d":"2002-05-01","v":0.05},{"d":"2002-05-16","v":-0.02},{"d":"2002-06-01","v":0.03},{"d":"2002-06-16","v":0.08},{"d":"2002-07-01","v":0.18},{"d":"2002-07-16","v":-0.07},{"d":"2002-08-01","v":-0.13},{"d":"2002-08-16","v":-0.05},{"d":"2002-09-01","v":0.02},{"d":"2002-09-16","v":-0.11},{"d":"2002-10-01","v":-0.04},{"d":"2002-10-16","v":-0.12},{"d":"2002-11-01","v":-0.08},{"d":"2002-11-16","v":-0.03},{"d":"2002-12-01","v":-0.10},{"d":"2002-12-16","v":-0.06},
{"d":"2003-01-01","v":-0.04},{"d":"2003-01-16","v":-0.09},{"d":"2003-02-01","v":-0.02},{"d":"2003-02-16","v":-0.13},{"d":"2003-03-01","v":-0.06},{"d":"2003-03-16","v":-0.14},{"d":"2003-04-01","v":-0.08},{"d":"2003-04-16","v":-0.04},{"d":"2003-05-01","v":-0.09},{"d":"2003-05-16","v":-0.05},{"d":"2003-06-01","v":-0.07},{"d":"2003-06-16","v":-0.03},{"d":"2003-07-01","v":-0.06},{"d":"2003-07-16","v":-0.10},{"d":"2003-08-01","v":-0.04},{"d":"2003-08-16","v":-0.07},{"d":"2003-09-01","v":-0.03},{"d":"2003-09-16","v":-0.08},{"d":"2003-10-01","v":-0.05},{"d":"2003-10-16","v":-0.11},{"d":"2003-11-01","v":-0.06},{"d":"2003-11-16","v":-0.04},{"d":"2003-12-01","v":-0.07},{"d":"2003-12-16","v":-0.05},
{"d":"2004-01-01","v":-0.08},{"d":"2004-01-16","v":-0.04},{"d":"2004-02-01","v":-0.06},{"d":"2004-02-16","v":-0.10},{"d":"2004-03-01","v":-0.03},{"d":"2004-03-16","v":0.01},{"d":"2004-04-01","v":-0.05},{"d":"2004-04-16","v":-0.08},{"d":"2004-05-01","v":-0.04},{"d":"2004-05-16","v":-0.07},{"d":"2004-06-01","v":-0.03},{"d":"2004-06-16","v":-0.06},{"d":"2004-07-01","v":-0.02},{"d":"2004-07-16","v":-0.05},{"d":"2004-08-01","v":-0.08},{"d":"2004-08-16","v":-0.04},{"d":"2004-09-01","v":-0.06},{"d":"2004-09-16","v":-0.03},{"d":"2004-10-01","v":-0.07},{"d":"2004-10-16","v":-0.04},{"d":"2004-11-01","v":-0.05},{"d":"2004-11-16","v":-0.02},{"d":"2004-12-01","v":-0.06},{"d":"2004-12-16","v":-0.04},
{"d":"2005-01-01","v":-0.03},{"d":"2005-01-16","v":-0.06},{"d":"2005-02-01","v":-0.04},{"d":"2005-02-16","v":-0.02},{"d":"2005-03-01","v":-0.05},{"d":"2005-03-16","v":-0.03},{"d":"2005-04-01","v":0.0},{"d":"2005-04-16","v":-0.04},{"d":"2005-05-01","v":-0.06},{"d":"2005-05-16","v":-0.03},{"d":"2005-06-01","v":-0.05},{"d":"2005-06-16","v":-0.02},{"d":"2005-07-01","v":-0.04},{"d":"2005-07-16","v":-0.06},{"d":"2005-08-01","v":-0.03},{"d":"2005-08-16","v":0.01},{"d":"2005-09-01","v":-0.04},{"d":"2005-09-16","v":-0.02},{"d":"2005-10-01","v":0.03},{"d":"2005-10-16","v":-0.05},{"d":"2005-11-01","v":-0.03},{"d":"2005-11-16","v":-0.06},{"d":"2005-12-01","v":-0.04},{"d":"2005-12-16","v":-0.02},
{"d":"2006-01-01","v":-0.04},{"d":"2006-01-16","v":-0.01},{"d":"2006-02-01","v":-0.05},{"d":"2006-02-16","v":-0.03},{"d":"2006-03-01","v":-0.06},{"d":"2006-03-16","v":-0.04},{"d":"2006-04-01","v":-0.02},{"d":"2006-04-16","v":-0.05},{"d":"2006-05-01","v":0.04},{"d":"2006-05-16","v":-0.01},{"d":"2006-06-01","v":-0.06},{"d":"2006-06-16","v":-0.03},{"d":"2006-07-01","v":-0.07},{"d":"2006-07-16","v":-0.04},{"d":"2006-08-01","v":-0.05},{"d":"2006-08-16","v":-0.03},{"d":"2006-09-01","v":-0.06},{"d":"2006-09-16","v":-0.04},{"d":"2006-10-01","v":-0.05},{"d":"2006-10-16","v":-0.03},{"d":"2006-11-01","v":-0.04},{"d":"2006-11-16","v":-0.06},{"d":"2006-12-01","v":-0.03},{"d":"2006-12-16","v":-0.05},
{"d":"2007-01-01","v":-0.04},{"d":"2007-01-16","v":-0.02},{"d":"2007-02-01","v":-0.05},{"d":"2007-02-16","v":0.09},{"d":"2007-03-01","v":-0.03},{"d":"2007-03-16","v":-0.06},{"d":"2007-04-01","v":-0.04},{"d":"2007-04-16","v":-0.07},{"d":"2007-05-01","v":-0.05},{"d":"2007-05-16","v":-0.03},{"d":"2007-06-01","v":-0.02},{"d":"2007-06-16","v":0.02},{"d":"2007-07-01","v":0.05},{"d":"2007-07-16","v":0.09},{"d":"2007-08-01","v":-0.10},{"d":"2007-08-16","v":-0.17},{"d":"2007-09-01","v":-0.06},{"d":"2007-09-16","v":0.03},{"d":"2007-10-01","v":0.08},{"d":"2007-10-16","v":-0.04},{"d":"2007-11-01","v":-0.02},{"d":"2007-11-16","v":0.07},{"d":"2007-12-01","v":-0.05},{"d":"2007-12-16","v":-0.12},
{"d":"2008-01-01","v":-0.03},{"d":"2008-01-16","v":0.10},{"d":"2008-02-01","v":-0.05},{"d":"2008-02-16","v":0.02},{"d":"2008-03-01","v":-0.06},{"d":"2008-03-16","v":0.06},{"d":"2008-04-01","v":-0.09},{"d":"2008-04-16","v":-0.12},{"d":"2008-05-01","v":-0.06},{"d":"2008-05-16","v":-0.03},{"d":"2008-06-01","v":-0.05},{"d":"2008-06-16","v":0.01},{"d":"2008-07-01","v":-0.02},{"d":"2008-07-16","v":-0.06},{"d":"2008-08-01","v":0.02},{"d":"2008-08-16","v":-0.04},{"d":"2008-09-01","v":0.03},{"d":"2008-09-16","v":0.35},{"d":"2008-10-01","v":0.50},{"d":"2008-10-16","v":0.05},{"d":"2008-11-01","v":0.28},{"d":"2008-11-16","v":-0.10},{"d":"2008-12-01","v":-0.31},{"d":"2008-12-16","v":-0.22},
{"d":"2009-01-01","v":-0.10},{"d":"2009-01-16","v":0.05},{"d":"2009-02-01","v":-0.08},{"d":"2009-02-16","v":-0.12},{"d":"2009-03-01","v":-0.02},{"d":"2009-03-16","v":-0.15},{"d":"2009-04-01","v":-0.09},{"d":"2009-04-16","v":-0.12},{"d":"2009-05-01","v":-0.08},{"d":"2009-05-16","v":-0.10},{"d":"2009-06-01","v":-0.13},{"d":"2009-06-16","v":-0.06},{"d":"2009-07-01","v":-0.10},{"d":"2009-07-16","v":-0.14},{"d":"2009-08-01","v":-0.08},{"d":"2009-08-16","v":-0.11},{"d":"2009-09-01","v":-0.07},{"d":"2009-09-16","v":-0.12},{"d":"2009-10-01","v":-0.05},{"d":"2009-10-16","v":-0.13},{"d":"2009-11-01","v":-0.09},{"d":"2009-11-16","v":-0.15},{"d":"2009-12-01","v":-0.11},{"d":"2009-12-16","v":-0.14},
{"d":"2010-01-01","v":-0.08},{"d":"2010-01-16","v":-0.04},{"d":"2010-02-01","v":-0.12},{"d":"2010-02-16","v":-0.06},{"d":"2010-03-01","v":-0.10},{"d":"2010-03-16","v":-0.13},{"d":"2010-04-01","v":-0.07},{"d":"2010-04-16","v":0.01},{"d":"2010-05-01","v":0.14},{"d":"2010-05-16","v":-0.05},{"d":"2010-06-01","v":-0.20},{"d":"2010-06-16","v":-0.08},{"d":"2010-07-01","v":-0.03},{"d":"2010-07-16","v":-0.10},{"d":"2010-08-01","v":-0.06},{"d":"2010-08-16","v":-0.12},{"d":"2010-09-01","v":-0.08},{"d":"2010-09-16","v":-0.15},{"d":"2010-10-01","v":-0.07},{"d":"2010-10-16","v":-0.10},{"d":"2010-11-01","v":-0.04},{"d":"2010-11-16","v":-0.09},{"d":"2010-12-01","v":-0.12},{"d":"2010-12-16","v":-0.06},
{"d":"2011-01-01","v":-0.10},{"d":"2011-01-16","v":-0.14},{"d":"2011-02-01","v":-0.08},{"d":"2011-02-16","v":-0.05},{"d":"2011-03-01","v":-0.12},{"d":"2011-03-16","v":-0.21},{"d":"2011-04-01","v":-0.06},{"d":"2011-04-16","v":-0.11},{"d":"2011-05-01","v":-0.09},{"d":"2011-05-16","v":-0.04},{"d":"2011-06-01","v":-0.07},{"d":"2011-06-16","v":-0.02},{"d":"2011-07-01","v":0.01},{"d":"2011-07-16","v":0.03},{"d":"2011-08-01","v":0.29},{"d":"2011-08-16","v":-0.05},{"d":"2011-09-01","v":-0.16},{"d":"2011-09-16","v":-0.06},{"d":"2011-10-01","v":-0.16},{"d":"2011-10-16","v":-0.08},{"d":"2011-11-01","v":-0.12},{"d":"2011-11-16","v":-0.05},{"d":"2011-12-01","v":0.02},{"d":"2011-12-16","v":-0.07},
{"d":"2012-01-01","v":-0.13},{"d":"2012-01-16","v":-0.10},{"d":"2012-02-01","v":-0.04},{"d":"2012-02-16","v":-0.08},{"d":"2012-03-01","v":-0.02},{"d":"2012-03-16","v":-0.06},{"d":"2012-04-01","v":-0.03},{"d":"2012-04-16","v":-0.09},{"d":"2012-05-01","v":0.02},{"d":"2012-05-16","v":-0.05},{"d":"2012-06-01","v":-0.11},{"d":"2012-06-16","v":-0.04},{"d":"2012-07-01","v":-0.07},{"d":"2012-07-16","v":-0.02},{"d":"2012-08-01","v":-0.09},{"d":"2012-08-16","v":-0.05},{"d":"2012-09-01","v":-0.03},{"d":"2012-09-16","v":-0.06},{"d":"2012-10-01","v":-0.02},{"d":"2012-10-16","v":-0.04},{"d":"2012-11-01","v":-0.03},{"d":"2012-11-16","v":0.01},{"d":"2012-11-23","v":0.01}
]
},
"vconcat": [
{
  "width": 449, "height": 152,
  "title": {"text": "SPX 1 month historical and implied volatility"},
  "data": {"name": "vol"},
  "resolve": {"axis": {"x": "independent", "y": "independent"}},
  "layer": [
    {
      "mark": {"type": "line", "color": "#00008b", "strokeWidth": 1.4},
      "encoding": {
        "x": {"field": "d", "type": "temporal",
          "scale": {"type": "utc", "domain": [{"year": 1990, "month": 1, "date": 2, "utc": true}, {"year": 2012, "month": 11, "date": 23, "utc": true}]},
          "axis": {"orient": "bottom", "title": null, "grid": true, "tickSize": 3, "labelPadding": 2, "labelLineHeight": 7.4, "labelFlush": false, "labelOverlap": false, "labelBaseline": "top",
            "values": [{"year":1990,"month":1,"date":2,"utc":true},{"year":1991,"month":1,"date":2,"utc":true},{"year":1992,"month":1,"date":2,"utc":true},{"year":1993,"month":1,"date":4,"utc":true},{"year":1994,"month":1,"date":3,"utc":true},{"year":1995,"month":1,"date":3,"utc":true},{"year":1996,"month":1,"date":2,"utc":true},{"year":1997,"month":1,"date":2,"utc":true},{"year":1998,"month":1,"date":2,"utc":true},{"year":1999,"month":1,"date":4,"utc":true},{"year":2000,"month":1,"date":3,"utc":true},{"year":2001,"month":1,"date":2,"utc":true},{"year":2002,"month":1,"date":2,"utc":true},{"year":2003,"month":1,"date":2,"utc":true},{"year":2004,"month":1,"date":2,"utc":true},{"year":2005,"month":1,"date":3,"utc":true},{"year":2006,"month":1,"date":3,"utc":true},{"year":2007,"month":1,"date":3,"utc":true},{"year":2008,"month":1,"date":2,"utc":true},{"year":2009,"month":1,"date":2,"utc":true},{"year":2010,"month":1,"date":4,"utc":true},{"year":2011,"month":1,"date":3,"utc":true},{"year":2012,"month":1,"date":3,"utc":true}],
            "labelExpr": "utcyear(datum.value) % 2 == 0 ? [utcFormat(datum.value, '%b %d'), utcFormat(datum.value, '%Y')] : ''"}},
        "y": {"field": "h", "type": "quantitative",
          "scale": {"domain": [0.008, 0.864], "nice": false, "zero": false},
          "axis": {"orient": "left", "title": null, "grid": true, "ticks": false, "domain": false, "labelPadding": 4, "format": ".1f", "values": [0.1,0.2,0.3,0.4,0.5,0.6,0.7,0.8]}}
      }
    },
    {
      "mark": {"type": "line", "color": "#ff8000", "strokeWidth": 1.4},
      "encoding": {
        "x": {"field": "d", "type": "temporal",
          "scale": {"type": "utc", "domain": [{"year": 1990, "month": 1, "date": 2, "utc": true}, {"year": 2012, "month": 11, "date": 23, "utc": true}]},
          "axis": {"orient": "top", "title": "1990-01-02 / 2012-11-23", "titleAnchor": "end", "titlePadding": 2, "labels": false, "ticks": false, "domain": false, "grid": false}},
        "y": {"field": "i", "type": "quantitative",
          "scale": {"domain": [0.008, 0.864], "nice": false, "zero": false},
          "axis": {"orient": "right", "title": null, "grid": false, "ticks": false, "domain": false, "labelPadding": 3, "format": ".1f", "values": [0.1,0.2,0.3,0.4,0.5,0.6,0.7,0.8]}}
      }
    }
  ]
},
{
  "width": 449, "height": 152,
  "title": {"text": "SPX Volatility Risk Premium"},
  "data": {"name": "vrp"},
  "resolve": {"axis": {"x": "independent", "y": "independent"}},
  "layer": [
    {
      "mark": {"type": "line", "color": "#00008b", "strokeWidth": 1.4},
      "encoding": {
        "x": {"field": "d", "type": "temporal",
          "scale": {"type": "utc", "domain": [{"year": 1990, "month": 1, "date": 31, "utc": true}, {"year": 2012, "month": 11, "date": 23, "utc": true}]},
          "axis": {"orient": "bottom", "title": null, "grid": true, "tickSize": 3, "labelPadding": 2, "labelLineHeight": 7.4, "labelFlush": false, "labelOverlap": false, "labelBaseline": "top",
            "values": [{"year":1990,"month":1,"date":31,"utc":true},{"year":1991,"month":1,"date":2,"utc":true},{"year":1992,"month":1,"date":2,"utc":true},{"year":1993,"month":1,"date":4,"utc":true},{"year":1994,"month":1,"date":3,"utc":true},{"year":1995,"month":1,"date":3,"utc":true},{"year":1996,"month":1,"date":2,"utc":true},{"year":1997,"month":1,"date":2,"utc":true},{"year":1998,"month":1,"date":2,"utc":true},{"year":1999,"month":1,"date":4,"utc":true},{"year":2000,"month":1,"date":3,"utc":true},{"year":2001,"month":1,"date":2,"utc":true},{"year":2002,"month":1,"date":2,"utc":true},{"year":2003,"month":1,"date":2,"utc":true},{"year":2004,"month":1,"date":2,"utc":true},{"year":2005,"month":1,"date":3,"utc":true},{"year":2006,"month":1,"date":3,"utc":true},{"year":2007,"month":1,"date":3,"utc":true},{"year":2008,"month":1,"date":2,"utc":true},{"year":2009,"month":1,"date":2,"utc":true},{"year":2010,"month":1,"date":4,"utc":true},{"year":2011,"month":1,"date":3,"utc":true},{"year":2012,"month":1,"date":3,"utc":true}],
            "labelExpr": "utcyear(datum.value) % 2 == 0 ? [utcFormat(datum.value, '%b %d'), utcFormat(datum.value, '%Y')] : ''"}},
        "y": {"field": "v", "type": "quantitative",
          "scale": {"domain": [-0.353, 0.511], "nice": false, "zero": false},
          "axis": {"orient": "left", "title": null, "grid": true, "ticks": false, "domain": false, "labelPadding": 4, "format": ".1f", "values": [-0.3,-0.2,-0.1,0,0.1,0.2,0.3,0.4,0.5]}}
      }
    },
    {
      "mark": {"type": "line", "color": "#00008b", "strokeWidth": 1.4, "strokeOpacity": 0},
      "encoding": {
        "x": {"field": "d", "type": "temporal",
          "scale": {"type": "utc", "domain": [{"year": 1990, "month": 1, "date": 31, "utc": true}, {"year": 2012, "month": 11, "date": 23, "utc": true}]},
          "axis": {"orient": "top", "title": "1990-01-31 / 2012-11-23", "titleAnchor": "end", "titlePadding": 2, "labels": false, "ticks": false, "domain": false, "grid": false}},
        "y": {"field": "v", "type": "quantitative",
          "scale": {"domain": [-0.353, 0.511], "nice": false, "zero": false},
          "axis": {"orient": "right", "title": null, "grid": false, "ticks": false, "domain": false, "labelPadding": 3, "format": ".1f", "values": [-0.3,-0.2,-0.1,0,0.1,0.2,0.3,0.4,0.5]}}
      }
    }
  ]
}
]
}
